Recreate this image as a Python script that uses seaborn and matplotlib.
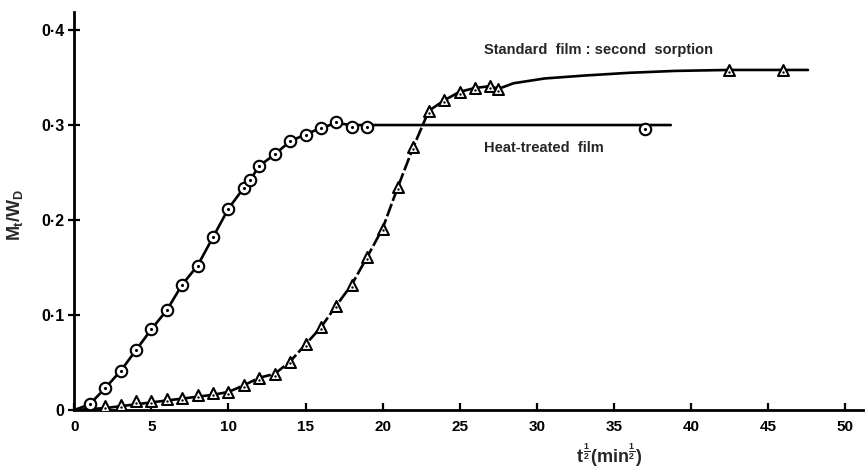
import numpy as np
import matplotlib
matplotlib.use("Agg")
import matplotlib.pyplot as plt
import seaborn as sns

# Heat-treated film: measured uptake (circles)
heat_x = [1, 2, 3, 4, 5, 6, 7, 8, 9, 10, 11, 11.4, 12, 13, 14, 15, 16, 17, 18, 19, 37]
heat_y = [0.006, 0.023, 0.041, 0.063, 0.085, 0.105, 0.132, 0.152, 0.182, 0.212,
          0.234, 0.242, 0.257, 0.269, 0.283, 0.290, 0.297, 0.303, 0.298, 0.298, 0.296]

# Heat-treated film: drawn sorption curve
heat_curve_x = [0, 1, 2, 3, 4, 5, 6, 7, 8, 9, 10, 11, 11.4, 12, 13, 14, 15, 16, 17, 18, 38.7]
heat_curve_y = [0, 0.006, 0.023, 0.041, 0.063, 0.085, 0.105, 0.132, 0.152, 0.182, 0.212,
                0.234, 0.242, 0.257, 0.269, 0.283, 0.290, 0.297, 0.302, 0.300, 0.300]

# Standard film, second sorption: measured uptake (triangles)
std_x = [2, 3, 4, 5, 6, 7, 8, 9, 10, 11, 12, 13, 14, 15, 16, 17, 18, 19, 20, 21, 22,
         23, 24, 25, 26, 27, 27.5, 42.5, 46]
std_y = [0.004, 0.005, 0.009, 0.0095, 0.012, 0.013, 0.016, 0.0175, 0.019, 0.026, 0.034,
         0.038, 0.051, 0.069, 0.087, 0.110, 0.132, 0.161, 0.191, 0.235, 0.277,
         0.315, 0.326, 0.335, 0.339, 0.341, 0.338, 0.358, 0.358]

# Standard film: drawn sorption curve (low, steep and plateau parts)
std_low_x = [0, 2, 3, 4, 5, 6, 7, 8, 9, 10]
std_low_y = [0, 0.002, 0.004, 0.006, 0.008, 0.010, 0.012, 0.014, 0.016, 0.019]
std_mid_x = [10, 11, 12, 13, 14, 15, 16, 17, 18, 19, 20, 21, 22, 23]
std_mid_y = [0.019, 0.026, 0.034, 0.038, 0.051, 0.069, 0.087, 0.110, 0.132, 0.161,
             0.191, 0.235, 0.277, 0.315]
std_top_x = [23, 24, 25, 26, 27, 27.5, 28.5, 30.5, 33, 36, 39, 42.5, 46, 47.6]
std_top_y = [0.315, 0.326, 0.335, 0.339, 0.341, 0.338, 0.344, 0.349, 0.352, 0.355,
             0.357, 0.358, 0.358, 0.358]

x_ticks = [0, 5, 10, 15, 20, 25, 30, 35, 40, 45, 50]
y_ticks = [0, 0.1, 0.2, 0.3, 0.4]
y_tick_labels = ["0", "0·1", "0·2", "0·3", "0·4"]

sns.set_theme(style="ticks")
plt.rcParams["font.family"] = ["Liberation Sans", "DejaVu Sans"]
plt.rcParams["font.weight"] = "bold"
plt.rcParams["mathtext.fontset"] = "custom"
plt.rcParams["mathtext.rm"] = "Liberation Sans:bold"
plt.rcParams["mathtext.it"] = "Liberation Sans:bold"
plt.rcParams["mathtext.bf"] = "Liberation Sans:bold"

fig = plt.figure(figsize=(8.65, 4.69), dpi=100)
ax = fig.add_axes([0.0859, 0.1258, 0.9141, 0.8486])

lw = 1.9
sns.lineplot(x=heat_curve_x, y=heat_curve_y, ax=ax, color="black", lw=lw,
             sort=False, estimator=None, zorder=2)
sns.lineplot(x=std_low_x, y=std_low_y, ax=ax, color="black", lw=lw,
             sort=False, estimator=None, zorder=2)
sns.lineplot(x=std_mid_x, y=std_mid_y, ax=ax, color="black", lw=lw,
             sort=False, estimator=None, zorder=2, linestyle=(0, (5, 1.2)))
sns.lineplot(x=std_top_x, y=std_top_y, ax=ax, color="black", lw=lw,
             sort=False, estimator=None, zorder=2)

# open markers with a dot in the centre
sns.scatterplot(x=heat_x, y=heat_y, ax=ax, marker="o", s=68, facecolor="white",
                edgecolor="black", linewidth=1.5, zorder=3)
sns.scatterplot(x=heat_x, y=heat_y, ax=ax, marker="o", s=5, color="black",
                edgecolor="black", linewidth=0, zorder=4)
sns.scatterplot(x=std_x, y=std_y, ax=ax, marker="^", s=62, facecolor="white",
                edgecolor="black", linewidth=1.5, zorder=3)
sns.scatterplot(x=std_x, y=np.array(std_y) - 0.002, ax=ax, marker="o", s=3,
                color="black", edgecolor="black", linewidth=0, zorder=4)

ax.text(26.6, 0.379, "Standard  film : second  sorption", fontsize=10.5,
        fontweight="bold", va="center", ha="left")
ax.text(26.6, 0.276, "Heat-treated  film", fontsize=10.5,
        fontweight="bold", va="center", ha="left")

ax.set_xlim(0, 51.3)
ax.set_ylim(0, 0.419)
ax.set_xticks(x_ticks)
ax.set_xticklabels([str(v) for v in x_ticks], fontsize=11, fontweight="bold")
ax.set_yticks(y_ticks)
ax.set_yticklabels(y_tick_labels, fontsize=11.5, fontweight="bold")
ax.tick_params(axis="x", direction="in", length=5, width=1.6, pad=7, colors="black")
ax.tick_params(axis="y", direction="inout", length=8, width=1.6, pad=3, colors="black")

for side in ["top", "right"]:
    ax.spines[side].set_visible(False)
for side in ["left", "bottom"]:
    ax.spines[side].set_linewidth(2.0)
    ax.spines[side].set_color("black")

ax.set_xlabel(r"$t^{\frac{1}{2}}(\mathrm{min}^{\frac{1}{2}})$", fontsize=13)
ax.xaxis.set_label_coords(0.677, -0.08)
ax.set_ylabel(r"$M_t/W_D$", fontsize=13)
ax.yaxis.set_label_coords(-0.062, 0.49)

fig.savefig("out.png", dpi=100)
